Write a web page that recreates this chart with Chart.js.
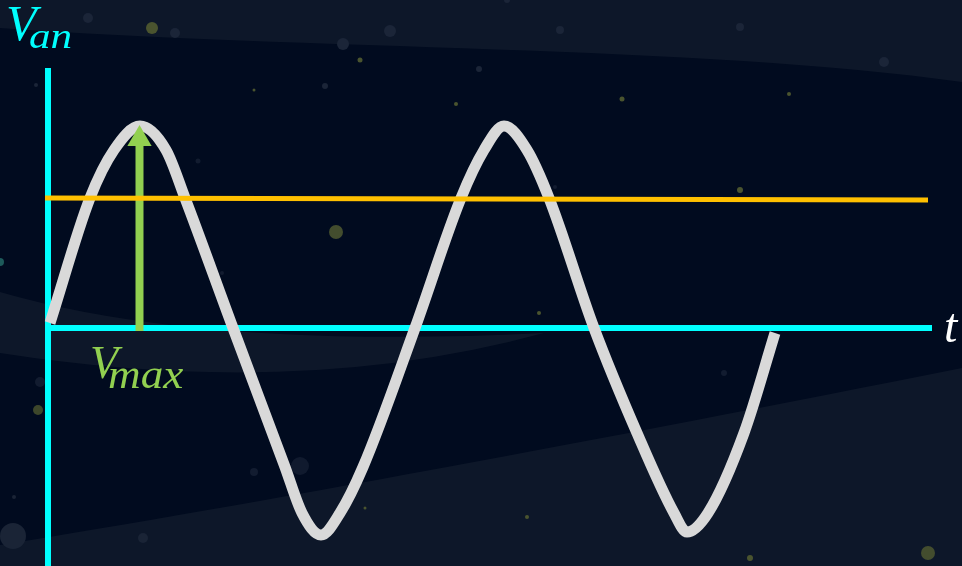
<!DOCTYPE html>
<html>
<head>
<meta charset="utf-8">
<script src="https://cdn.jsdelivr.net/npm/chart.js@4/dist/chart.umd.min.js"></script>
<style>
  html, body { margin: 0; padding: 0; background: #010b1f; overflow: hidden; }
  #wrap { width: 962px; height: 566px; position: relative; }
</style>
</head>
<body>
<div id="wrap"><canvas id="chart" width="962" height="566"></canvas></div>
<script>
// phase voltage trace (t from the origin, V up from the t axis)
const waveT = [2, 42, 66, 92, 118, 137, 185, 237, 254, 273, 292, 315, 367, 413, 436, 456, 479, 501, 546, 589, 626, 639, 660, 696, 727];
const waveV = [5, 130, 178, 202, 178, 130, 0, -139, -185, -207, -185, -139, 0, 130, 178, 202, 178, 130, 0, -105, -185, -204, -185, -105, -5];

// orange reference level
const levelT = [-3, 880];
const levelV = [130, 128];

// V_max arrow at the first peak
const arrowT = [91.5, 91.5];
const arrowV = [-3, 189];

// axes
const tAxisT = [-2, 884];
const vAxisV = [-240, 260];

const tRange = [-48, 914];
const vRange = [-238, 328];

const pts = (xs, ys) => xs.map((x, i) => ({ x: x, y: ys[i] }));

// background decoration: bands and dim stars
const stars = [
  [152, 28, 6, "#4a542f"], [336, 232, 7, "#434d2e"], [928, 553, 7, "#434d2e"], [38, 410, 5, "#3d472b"],
  [360, 60, 2.5, "#4a542f"], [254, 90, 1.5, "#4a542f"], [456, 104, 2, "#4a542f"], [622, 99, 2.5, "#4a542f"],
  [789, 94, 2, "#4a542f"], [740, 190, 3, "#4a542f"], [539, 313, 2, "#4a542f"], [750, 558, 3, "#4a542f"],
  [527, 517, 2, "#4a542f"], [365, 508, 1.5, "#4a542f"],
  [88, 18, 5, "#1b2538"], [175, 33, 5, "#1b2538"], [343, 44, 6, "#1b2538"], [390, 31, 6, "#1b2538"],
  [560, 30, 4, "#1b2538"], [740, 27, 4, "#1b2538"], [884, 62, 5, "#1b2538"], [325, 86, 3, "#1b2538"],
  [479, 69, 3, "#1b2538"], [36, 85, 2, "#1b2538"], [507, 0, 3, "#1b2538"], [198, 161, 2.5, "#121c30"],
  [222, 273, 2, "#121c30"], [300, 466, 9, "#101a2e"], [254, 472, 4, "#121c30"], [724, 373, 3, "#121c30"],
  [40, 382, 5, "#121c30"], [555, 187, 2, "#121c30"], [13, 536, 13, "#1a2436"], [143, 538, 5, "#1a2436"],
  [14, 497, 2, "#1a2436"], [0, 262, 4, "#1d5a5a"]
];

const backdrop = {
  id: "backdrop",
  beforeDraw(chart) {
    const ctx = chart.ctx;
    ctx.save();
    ctx.fillStyle = "#010b1f";
    ctx.fillRect(0, 0, chart.width, chart.height);
    ctx.fillStyle = "#0d1729";
    ctx.beginPath();
    ctx.moveTo(0, 0);
    ctx.lineTo(0, 28);
    ctx.bezierCurveTo(300, 50, 700, 45, 962, 82);
    ctx.lineTo(962, 0);
    ctx.closePath();
    ctx.fill();
    ctx.beginPath();
    ctx.moveTo(0, 545);
    ctx.bezierCurveTo(250, 505, 600, 440, 962, 368);
    ctx.lineTo(962, 566);
    ctx.lineTo(0, 566);
    ctx.closePath();
    ctx.fill();
    ctx.beginPath();
    ctx.moveTo(0, 292);
    ctx.quadraticCurveTo(200, 350, 544, 333);
    ctx.quadraticCurveTo(300, 400, 0, 353);
    ctx.closePath();
    ctx.fill();
    stars.forEach(s => {
      ctx.fillStyle = s[3];
      ctx.beginPath();
      ctx.arc(s[0], s[1], s[2], 0, Math.PI * 2);
      ctx.fill();
    });
    ctx.restore();
  }
};

const labels = {
  id: "labels",
  afterDraw(chart) {
    const ctx = chart.ctx;
    ctx.save();
    ctx.textBaseline = "alphabetic";
    // V_an
    ctx.fillStyle = "#00ffff";
    ctx.font = 'italic 50px "Liberation Serif"';
    ctx.fillText("V", 6, 40);
    ctx.save();
    ctx.translate(29, 48);
    ctx.scale(1.2, 1);
    ctx.font = 'italic 36px "Liberation Serif"';
    ctx.fillText("an", 0, 0);
    ctx.restore();
    // V_max
    ctx.fillStyle = "#92d050";
    ctx.font = 'italic 46px "Liberation Serif"';
    ctx.fillText("V", 90, 378);
    ctx.save();
    ctx.translate(108, 388);
    ctx.scale(1.13, 1);
    ctx.font = 'italic 40px "Liberation Serif"';
    ctx.fillText("max", 0, 0);
    ctx.restore();
    // t
    ctx.fillStyle = "#ffffff";
    ctx.font = 'italic 48px "Liberation Serif"';
    ctx.fillText("t", 944, 342);
    ctx.restore();
  }
};

new Chart(document.getElementById("chart"), {
  type: "line",
  data: {
    datasets: [
      {
        label: "level",
        data: pts(levelT, levelV),
        borderColor: "#ffc000",
        borderWidth: 5,
        pointRadius: 0,
        order: 0
      },
      {
        label: "Vmax",
        data: pts(arrowT, arrowV),
        borderColor: "#92d050",
        backgroundColor: "#92d050",
        borderWidth: 8,
        pointStyle: "triangle",
        pointRadius: [0, 14],
        pointBorderWidth: 0,
        order: 1
      },
      {
        label: "Van",
        data: pts(waveT, waveV),
        borderColor: "#d9d9d9",
        borderWidth: 11,
        pointRadius: 0,
        cubicInterpolationMode: "monotone",
        order: 2
      },
      {
        label: "t axis",
        data: pts(tAxisT, [0, 0]),
        borderColor: "#00ffff",
        borderWidth: 6,
        pointRadius: 0,
        order: 3
      },
      {
        label: "V axis",
        data: pts([0, 0], vAxisV),
        borderColor: "#00ffff",
        borderWidth: 6,
        pointRadius: 0,
        order: 3
      }
    ]
  },
  options: {
    responsive: false,
    animation: false,
    layout: { padding: 0, autoPadding: false },
    plugins: { legend: { display: false }, tooltip: { enabled: false } },
    scales: {
      x: { type: "linear", min: tRange[0], max: tRange[1], display: false },
      y: { type: "linear", min: vRange[0], max: vRange[1], display: false }
    }
  },
  plugins: [backdrop, labels]
});
</script>
</body>
</html>
